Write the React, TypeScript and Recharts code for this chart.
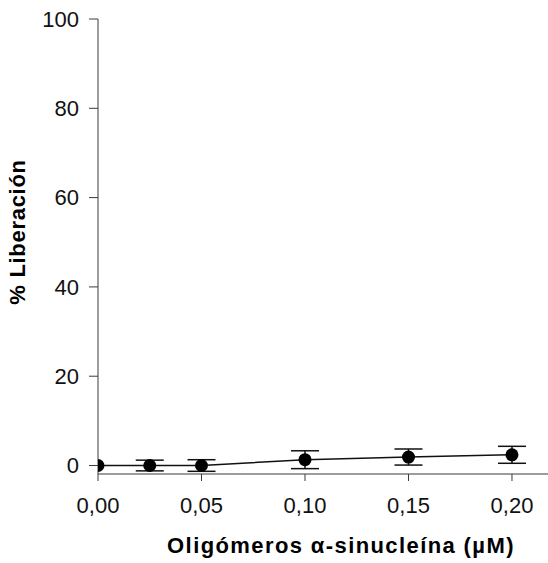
import { ComposedChart, Line, XAxis, YAxis, ErrorBar } from "recharts";

const concentrations = [0, 0.025, 0.05, 0.1, 0.15, 0.2];
const release = [0, 0, 0, 1.3, 1.9, 2.4];
const releaseErr = [0, 1.2, 1.3, 2.0, 1.8, 1.9];
const xTicks = [0, 0.05, 0.1, 0.15, 0.2];
const yTicks = [0, 20, 40, 60, 80, 100];

const data = concentrations.map((x, i) => ({ x, y: release[i], err: releaseErr[i] }));

const font = "'Liberation Sans', Arial, Helvetica, sans-serif";
const axisColor = "#3a3a3a";

function XTitle() {
  return (
    <text
      x={341}
      y={553}
      textAnchor="middle"
      fontFamily={font}
      fontSize={22}
      fontWeight="bold"
      letterSpacing={1.4}
      fill="#000"
    >
      Oligómeros α-sinucleína (µM)
    </text>
  );
}

function YTitle() {
  return (
    <text
      x={0}
      y={0}
      transform="translate(25, 232) rotate(-90)"
      textAnchor="middle"
      fontFamily={font}
      fontSize={22}
      fontWeight="bold"
      letterSpacing={0.7}
      fill="#000"
    >
      % Liberación
    </text>
  );
}

export default function App() {
  return (
    <div style={{ position: "absolute", left: 0, top: 0, background: "#fff" }}>
      <ComposedChart width={548} height={563} data={data} margin={{ top: 19, right: 0, bottom: 14, left: 0 }}>
        <XAxis
          dataKey="x"
          type="number"
          domain={[0, 0.2174]}
          ticks={xTicks}
          tickFormatter={(v: number) => v.toFixed(2).replace(".", ",")}
          height={75}
          tickSize={7}
          tickMargin={16}
          stroke={axisColor}
          tick={{ fill: "#111", fontSize: 22, fontFamily: font }}
          allowDataOverflow
          label={<XTitle />}
        />
        <YAxis
          type="number"
          domain={[-1.9, 100]}
          ticks={yTicks}
          width={98}
          tickSize={9}
          tickMargin={10}
          stroke={axisColor}
          tick={{ fill: "#111", fontSize: 22, fontFamily: font }}
          allowDataOverflow
          label={<YTitle />}
        />
        <Line
          dataKey="y"
          stroke="#111"
          strokeWidth={1.5}
          dot={{ r: 6.5, fill: "#000", stroke: "#000", strokeWidth: 0 }}
          isAnimationActive={false}
        >
          <ErrorBar dataKey="err" width={14} stroke="#111" strokeWidth={1.5} direction="y" />
        </Line>
      </ComposedChart>
    </div>
  );
}
